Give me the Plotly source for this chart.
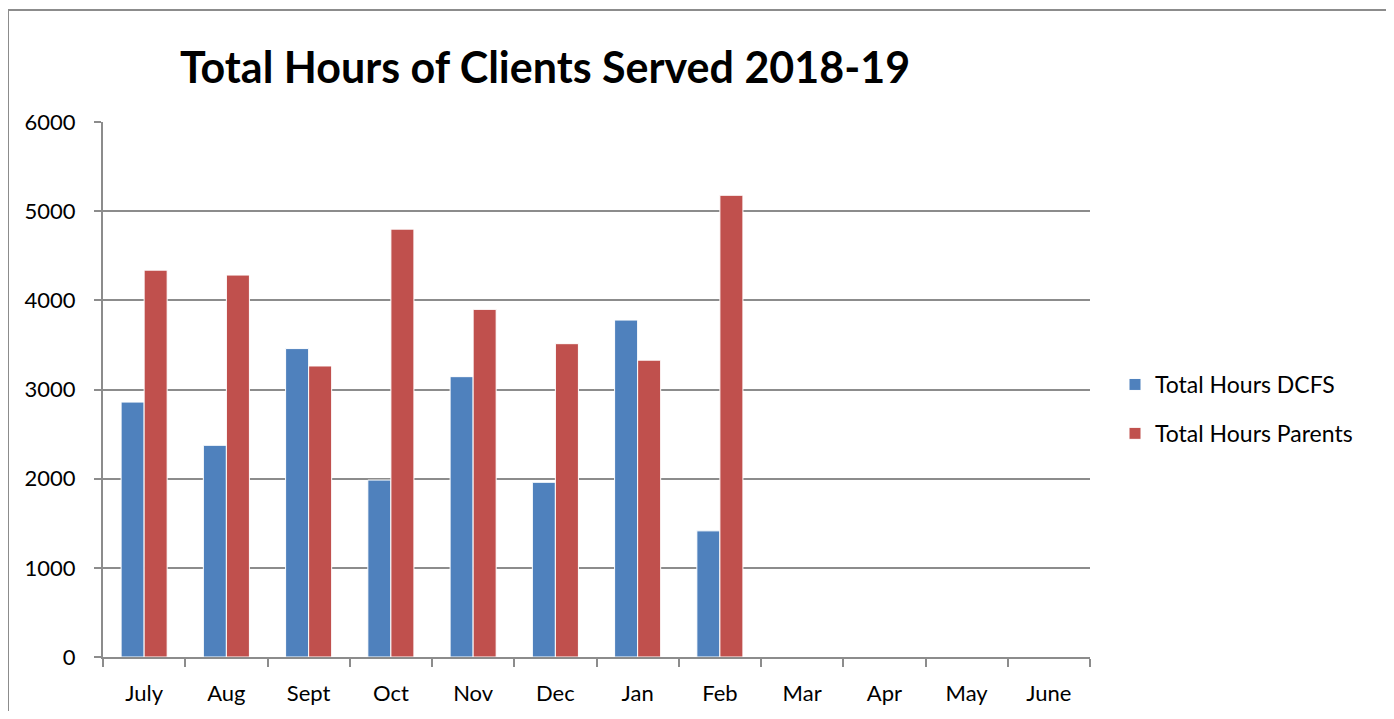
import plotly.graph_objects as go

months = ["July", "Aug", "Sept", "Oct", "Nov", "Dec", "Jan", "Feb", "Mar", "Apr", "May", "June"]
dcfs = [2860, 2375, 3460, 1985, 3145, 1960, 3780, 1415, None, None, None, None]
parents = [4340, 4285, 3265, 4800, 3900, 3515, 3330, 5180, None, None, None, None]
y_ticks = [0, 1000, 2000, 3000, 4000, 5000, 6000]

O = 8  # page body margin offset
W, H = 1394 - O, 719 - 2 * O
L, R, T, B = 103 - O, 1090 - O, 122 - O, 657 - O
pw, ph = R - L, B - T

FONT = "Lato"
grid = "#8c8c8c"

fig = go.Figure()
fig.add_trace(go.Bar(x=months, y=dcfs, name="Total Hours DCFS", legendgroup="a",
                     marker=dict(color="#4F81BD", line=dict(color="white", width=1))))
fig.add_trace(go.Bar(x=months, y=parents, name="Total Hours Parents", legendgroup="b",
                     marker=dict(color="#C0504D", line=dict(color="white", width=1))))

fig.update_layout(
    width=W, height=H,
    margin=dict(l=L, r=W - R, t=T, b=H - B, pad=0, autoexpand=False),
    paper_bgcolor="white", plot_bgcolor="white",
    barmode="group", bargap=0.44, bargroupgap=0,
    font=dict(family=FONT, size=22, color="black"),
    title=dict(text="<b>Total Hours of Clients Served 2018-19</b>",
               font=dict(family=FONT, size=43, color="black"),
               xref="paper", x=(545 - O - L) / pw, xanchor="center",
               yref="container", y=1 - (68 - O) / H, yanchor="middle"),
    legend=dict(x=(1115 - O - L) / pw, xanchor="left", y=1 - (409 - 122) / ph, yanchor="middle",
                font=dict(family=FONT, size=23), tracegroupgap=16,
                itemwidth=30, bgcolor="rgba(0,0,0,0)"),
    showlegend=True,
)
fig.update_xaxes(
    type="category", categoryorder="array", categoryarray=months,
    showline=True, linecolor=grid, linewidth=2, automargin=False,
    ticks="outside", tickson="boundaries", ticklen=8, tickcolor=grid, tickwidth=2,
    showgrid=False, tickfont=dict(family=FONT, size=22), ticklabelstandoff=16,
)
fig.update_yaxes(
    range=[0, 6002], tickvals=y_ticks, ticktext=[str(v) for v in y_ticks],
    showline=True, linecolor=grid, linewidth=2, automargin=False,
    showgrid=True, gridcolor=grid, gridwidth=2,
    ticks="outside", ticklen=7, tickcolor=grid, tickwidth=2,
    tickfont=dict(family=FONT, size=22), ticklabelstandoff=14,
    zeroline=False,
)
# outer chart frame
fig.add_shape(type="rect", xref="paper", yref="paper",
              x0=(8 - 103) / pw, x1=(1392 - 103) / pw,
              y0=(657 - 740) / ph, y1=(657 - 10) / ph,
              line=dict(color="#8c8c8c", width=2), fillcolor="rgba(0,0,0,0)", layer="below")

fig.write_html("out.html")
